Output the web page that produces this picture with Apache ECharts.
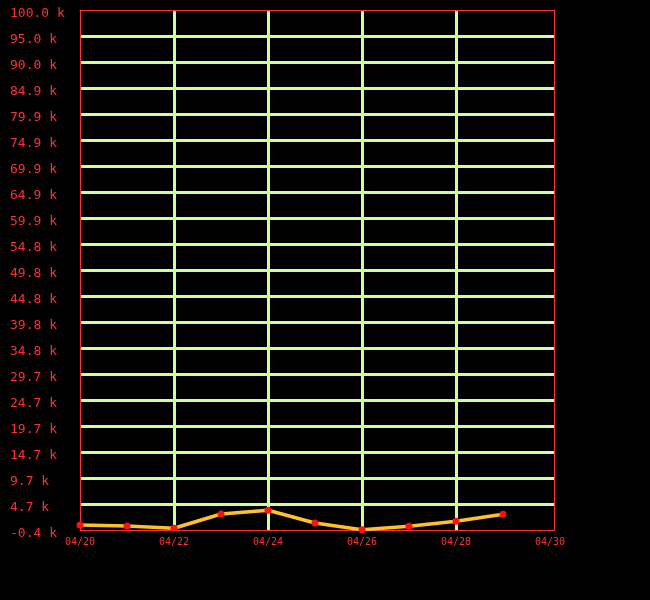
<!DOCTYPE html>
<html><head><meta charset="utf-8">
<script src="https://cdn.jsdelivr.net/npm/echarts@6/dist/echarts.min.js"></script>
<style>html,body{margin:0;padding:0;background:#000;}#c{width:650px;height:600px;}</style>
</head><body><div id="c"></div>
<script>
var categories = ['04/20','04/21','04/22','04/23','04/24','04/25','04/26','04/27','04/28','04/29','04/30'];
var values = [600, 410, -30, 2720, 3440, 990, -300, 350, 1320, 2670];
var yMin = -362, yMax = 100000;
var xMax = 10.085;
var red = '#ff3030', green = '#ccff99', none = 'rgba(0,0,0,0)';
var seriesData = values.map(function (v, i) { return [i, v]; });
function xFmt(v) { return Math.abs(v - Math.round(v)) < 1e-6 ? categories[Math.round(v)] : ''; }
var chart = echarts.init(document.getElementById('c'));
chart.setOption({
  backgroundColor: '#000000',
  animation: false,
  grid: {left: 80, top: 10, right: 96, bottom: 70, containLabel: false},
  xAxis: [{
    type: 'value', min: 0, max: xMax, interval: 2,
    axisLine: {show: true, onZero: false, lineStyle: {color: red, width: 1}},
    axisTick: {show: false},
    axisLabel: {color: red, fontFamily: 'DejaVu Sans Mono', fontSize: 10, margin: 7, formatter: xFmt, showMaxLabel: false},
    splitLine: {show: true, lineStyle: {color: [none, green, green, green, green, none, none], width: 3}}
  }, {
    type: 'value', position: 'top', min: 0, max: xMax, interval: 2, z: 5,
    axisLine: {show: true, onZero: false, lineStyle: {color: red, width: 1}},
    axisTick: {show: false}, axisLabel: {show: false}, splitLine: {show: false}
  }],
  yAxis: [{
    type: 'value', min: yMin, max: yMax, interval: (yMax - yMin) / 20, z: 4,
    axisLine: {show: true, onZero: false, lineStyle: {color: red, width: 1}},
    axisTick: {show: false},
    axisLabel: {color: red, fontFamily: 'DejaVu Sans Mono', fontSize: 13, align: 'left', margin: 70,
      verticalAlign: 'top', lineHeight: 8,
      formatter: function (v) { return (v / 1000).toFixed(1) + ' k'; }},
    splitLine: {show: true, showMinLine: false, showMaxLine: false, lineStyle: {color: green, width: 3}}
  }, {
    type: 'value', position: 'right', min: yMin, max: yMax, interval: (yMax - yMin) / 20, z: 5,
    axisLine: {show: true, onZero: false, lineStyle: {color: red, width: 1}},
    axisTick: {show: false}, axisLabel: {show: false}, splitLine: {show: false}
  }],
  series: [{
    type: 'line', data: seriesData, smooth: false,
    xAxisIndex: 0, yAxisIndex: 0,
    lineStyle: {color: '#ffc030', width: 3.5},
    symbol: 'circle', symbolSize: 7,
    itemStyle: {color: '#ff1010'},
    z: 6
  }]
});
</script></body></html>
